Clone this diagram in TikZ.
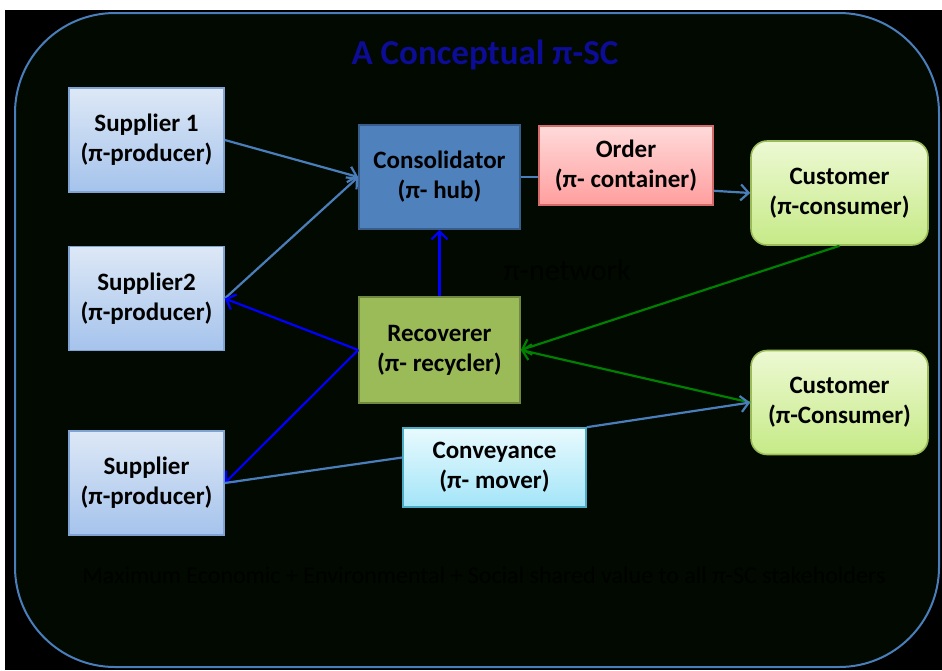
\documentclass[tikz,border=0pt]{standalone}
\usepackage{fontspec}
\setmainfont{Carlito}
\usetikzlibrary{arrows.meta, positioning, calc}
\definecolor{cline}{HTML}{4A7EBB}
\definecolor{cblue}{HTML}{0000FF}
\definecolor{cgreen}{HTML}{008000}
\definecolor{cnavy}{HTML}{0C0C96}
\definecolor{cbg}{HTML}{010901}
\definecolor{cdim}{HTML}{000200}
\definecolor{supTop}{HTML}{DDE8F6}
\definecolor{supBot}{HTML}{A5C3EC}
\definecolor{supEdge}{HTML}{7FA3D3}
\definecolor{consTop}{HTML}{4F81BD}
\definecolor{consBot}{HTML}{4F81BD}
\definecolor{consEdge}{HTML}{385D8A}
\definecolor{ordTop}{HTML}{FFDADA}
\definecolor{ordBot}{HTML}{FF9E9E}
\definecolor{ordEdge}{HTML}{D36B69}
\definecolor{custTop}{HTML}{EDF9D3}
\definecolor{custBot}{HTML}{C6EA87}
\definecolor{custEdge}{HTML}{9BBB59}
\definecolor{recTop}{HTML}{9BBB59}
\definecolor{recBot}{HTML}{9BBB59}
\definecolor{recEdge}{HTML}{71893F}
\definecolor{convTop}{HTML}{E8FAFE}
\definecolor{convBot}{HTML}{A3E5F8}
\definecolor{convEdge}{HTML}{4BACC6}
\tikzset{
  every picture/.style={font=\bfseries, line width=1pt, x=0.5pt, y=-0.5pt},
  box/.style={draw=#1Edge, top color=#1Top, bottom color=#1Bot, align=center, inner sep=2pt, line width=0.8pt, font=\fontsize{12.5}{15}\selectfont\bfseries},
  arrow/.style={-{Straight Barb[length=4pt, width=8pt]}, draw=#1, line width=1.1pt},
  arrow/.default=cline,
  link/.style={draw=cline, line width=1.1pt},
  title/.style={font=\fontsize{17.5}{20}\selectfont\bfseries, text=cnavy},
  note/.style={font=\fontsize{#1}{18}\selectfont\mdseries, text=cdim},
  note/.default=15,
}

\begin{document}
\begin{tikzpicture}[sup/.style={box=sup, minimum width=77.5pt, minimum height=52pt},
                    cust/.style={box=cust, rounded corners=8pt, minimum width=88.5pt, minimum height=52pt}]
  % page and frame
  \fill[white] (0,0) rectangle (942,670);
  \useasboundingbox (0,0) rectangle (942,670);
  \fill[black] (5,10) rectangle (942,670);
  \draw[draw=cline, fill=cbg, line width=1pt, rounded corners=50pt] (15,13) rectangle (939,667);
  \node[title] (ttl) at (485, 55) {A Conceptual π-SC};
  \node[note] (net) at (567, 270) {π-network};
  \node[note=12] (goal) at (484, 575) {Maximum Economic + Environmental + Social shared value to all π-SC stakeholders};
  % actors
  \node[sup] (sup1) at (146.5, 140) {Supplier 1\\(π-producer)};
  \node[sup] (sup2) at (146.5, 298.5) {Supplier2\\(π-producer)};
  \node[sup] (sup3) at (146.5, 483) {Supplier\\(π-producer)};
  \node[box=cons, minimum width=80.5pt, minimum height=52pt] (cons) at (439.5, 177) {Consolidator\\(π- hub)};
  \node[box=rec, minimum width=80.5pt, minimum height=53pt] (rec) at (439.5, 350) {Recoverer\\(π- recycler)};
  \node[box=ord, minimum width=87pt, minimum height=39.5pt] (ord) at (626, 165.5) {Order\\(π- container)};
  \node[box=conv, minimum width=91.5pt, minimum height=39.5pt] (conv) at (494.5, 467.5) {Conveyance\\(π- mover)};
  \node[cust] (cust1) at (839.5, 193) {Customer\\(π-consumer)};
  \node[cust] (cust2) at (839.5, 402.5) {Customer\\(π-Consumer)};
  % flows
  \draw[arrow] (sup1.east) -- (cons.west);
  \draw[arrow] (sup2.east) -- (cons.west);
  \draw[link] (cons.east) -- (cons.east -| ord.west);
  \draw[arrow] ([yshift=7.5pt]ord.south east) -- (cust1.west);
  \draw[arrow=cblue] (rec.north) -- (cons.south);
  \draw[arrow=cblue] (rec.west) -- (sup2.east);
  \draw[arrow=cblue] (rec.west) -- (sup3.east);
  \draw[arrow=cgreen] (cust1.south) -- (rec.east);
  \draw[arrow=cgreen] (cust2.west) -- (rec.east);
  \draw[link] ([yshift=5pt]conv.west) -- (sup3.east);
  \draw[arrow] (conv.north east) -- (cust2.west);
\end{tikzpicture}
\end{document}
